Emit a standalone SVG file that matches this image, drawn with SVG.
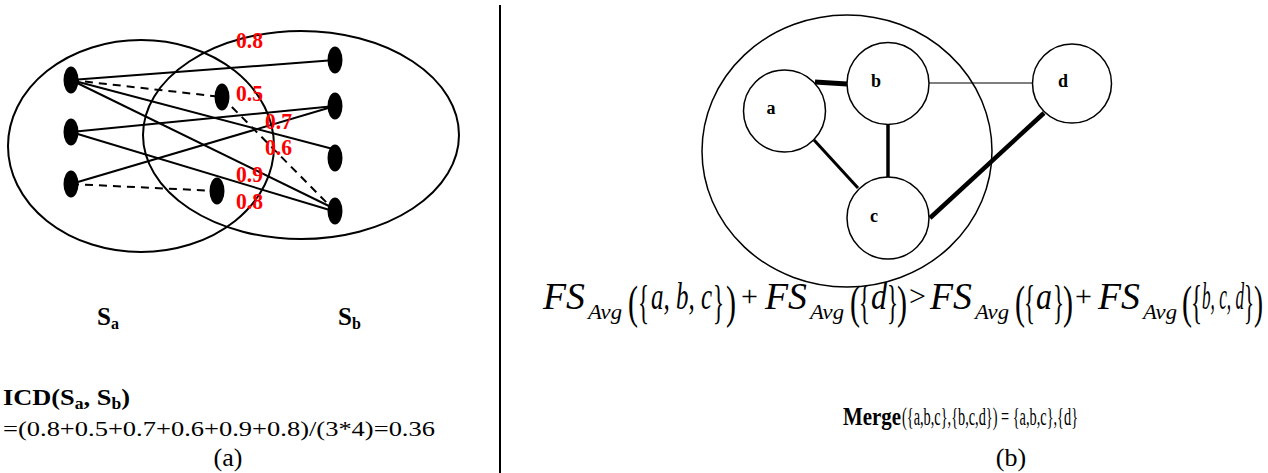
<svg xmlns="http://www.w3.org/2000/svg" width="1268" height="473" viewBox="0 0 1268 473">
<style>
.ol{fill:none;stroke:#000;stroke-width:2}
.dot{fill:#000}
.e{stroke:#000;stroke-width:2;fill:none}
.d{stroke:#000;stroke-width:2;fill:none;stroke-dasharray:8,6}
.w{font-family:"Liberation Serif","DejaVu Serif",serif;font-weight:bold;font-size:23px;fill:#f00}
.t{font-family:"Liberation Serif","DejaVu Serif",serif;fill:#000}
.b{font-weight:bold}
.nd{fill:#fff;stroke:#000;stroke-width:1.5}
.nl{font-family:"Liberation Serif","DejaVu Serif",serif;font-weight:bold;font-size:18px;text-anchor:middle}
.f{font-family:"Liberation Serif","DejaVu Serif",serif;font-style:italic;font-size:37px}
.fs{font-family:"Liberation Serif","DejaVu Serif",serif;font-style:italic;font-size:22px}
.dl{font-family:"Liberation Serif","DejaVu Serif",serif;font-size:46px}
.op{font-family:"Liberation Serif","DejaVu Serif",serif;font-size:30px}
</style>
<line x1="500" y1="5" x2="500" y2="473" stroke="#000" stroke-width="2"/>
<g id="setA"><ellipse class="ol" cx="141" cy="146" rx="133" ry="106"/></g>
<g id="setB"><ellipse class="ol" cx="301" cy="135" rx="158" ry="104"/></g>
<g id="connectors-left">
<line class="e" x1="71" y1="80" x2="335" y2="60"/>
<line class="d" x1="71" y1="80" x2="222" y2="97"/>
<line class="d" x1="222" y1="97" x2="330" y2="206"/>
<line class="e" x1="71" y1="80" x2="333" y2="149"/>
<line class="e" x1="71" y1="80" x2="333" y2="208"/>
<line class="e" x1="71" y1="132" x2="335" y2="106"/>
<line class="e" x1="71" y1="132" x2="333" y2="211"/>
<line class="e" x1="71" y1="184" x2="335" y2="106"/>
<line class="d" x1="71" y1="184" x2="217" y2="191"/>
</g>
<g id="dots">
<ellipse class="dot" cx="71" cy="80" rx="7.5" ry="13.5"/>
<ellipse class="dot" cx="71" cy="132" rx="7.5" ry="13.5"/>
<ellipse class="dot" cx="71" cy="184" rx="7.5" ry="13.5"/>
<ellipse class="dot" cx="222" cy="97" rx="7.5" ry="13.5"/>
<ellipse class="dot" cx="217" cy="191" rx="7.5" ry="13.5"/>
<ellipse class="dot" cx="335" cy="60" rx="7.5" ry="13.5"/>
<ellipse class="dot" cx="335" cy="106" rx="7.5" ry="13.5"/>
<ellipse class="dot" cx="335" cy="158" rx="7.5" ry="13.5"/>
<ellipse class="dot" cx="335" cy="211" rx="7.5" ry="13.5"/>
</g>
<g id="weights">
<text class="w" x="236" y="48" textLength="27" lengthAdjust="spacingAndGlyphs">0.8</text>
<text class="w" x="236" y="101" textLength="27" lengthAdjust="spacingAndGlyphs">0.5</text>
<text class="w" x="265" y="129" textLength="27" lengthAdjust="spacingAndGlyphs">0.7</text>
<text class="w" x="265" y="155" textLength="27" lengthAdjust="spacingAndGlyphs">0.6</text>
<text class="w" x="236" y="182" textLength="27" lengthAdjust="spacingAndGlyphs">0.9</text>
<text class="w" x="236" y="209" textLength="27" lengthAdjust="spacingAndGlyphs">0.8</text>
</g>
<g id="labels-left">
<text class="t b" x="97" y="325" style="font-size:25px">S<tspan style="font-size:16px" dy="4">a</tspan></text>
<text class="t b" x="338" y="325" style="font-size:25px">S<tspan style="font-size:16px" dy="4">b</tspan></text>
<text class="t b" x="3" y="405" style="font-size:24px" textLength="127" lengthAdjust="spacingAndGlyphs">ICD(S<tspan style="font-size:16px" dy="4">a</tspan><tspan dy="-4">, S</tspan><tspan style="font-size:16px" dy="4">b</tspan><tspan dy="-4">)</tspan></text>
<text class="t" x="3" y="436" style="font-size:22px" textLength="432" lengthAdjust="spacingAndGlyphs">=(0.8+0.5+0.7+0.6+0.9+0.8)/(3*4)=0.36</text>
<text class="t" x="228" y="466" style="font-size:26px" text-anchor="middle">(a)</text>
</g>
<g id="cluster"><ellipse fill="none" stroke="#000" stroke-width="1.5" cx="847" cy="151" rx="145" ry="136"/></g>
<g id="connectors-right">
<line stroke="#000" stroke-width="5" x1="815" y1="82" x2="847" y2="84"/>
<line stroke="#000" stroke-width="1.2" x1="929" y1="83" x2="1033" y2="83"/>
<line stroke="#000" stroke-width="3.5" x1="888" y1="124" x2="888" y2="178"/>
<line stroke="#000" stroke-width="3" x1="814" y1="140" x2="858" y2="188"/>
<line stroke="#000" stroke-width="4.5" x1="930" y1="218" x2="1044" y2="113"/>
</g>
<g id="node-a"><circle class="nd" cx="784.5" cy="111" r="41"/><text class="nl" x="771" y="114">a</text></g>
<g id="node-b"><circle class="nd" cx="888" cy="83.5" r="41"/><text class="nl" x="876" y="87">b</text></g>
<g id="node-c"><circle class="nd" cx="888" cy="218" r="41"/><text class="nl" x="874" y="222">c</text></g>
<g id="node-d"><circle class="nd" cx="1072" cy="83.5" r="39.5"/><text class="nl" x="1063" y="87">d</text></g>
<g id="formula">
<text class="f" x="543" y="309" textLength="42" lengthAdjust="spacingAndGlyphs">FS</text>
<text class="fs" x="588" y="319" textLength="34" lengthAdjust="spacingAndGlyphs">Avg</text>
<text class="dl" x="628" y="318" textLength="10" lengthAdjust="spacingAndGlyphs">(</text>
<text class="dl" x="638" y="318" textLength="11" lengthAdjust="spacingAndGlyphs">{</text>
<text class="f" x="651" y="309" textLength="61" lengthAdjust="spacingAndGlyphs">a, b, c</text>
<text class="dl" x="713" y="318" textLength="11" lengthAdjust="spacingAndGlyphs">}</text>
<text class="dl" x="726" y="318" textLength="10" lengthAdjust="spacingAndGlyphs">)</text>
<text class="op" x="741" y="306">+</text>
<text class="f" x="765" y="309" textLength="42" lengthAdjust="spacingAndGlyphs">FS</text>
<text class="fs" x="810" y="319" textLength="34" lengthAdjust="spacingAndGlyphs">Avg</text>
<text class="dl" x="850" y="318" textLength="10" lengthAdjust="spacingAndGlyphs">(</text>
<text class="dl" x="859" y="318" textLength="11" lengthAdjust="spacingAndGlyphs">{</text>
<text class="f" x="871" y="309" textLength="16" lengthAdjust="spacingAndGlyphs">d</text>
<text class="dl" x="887" y="318" textLength="11" lengthAdjust="spacingAndGlyphs">}</text>
<text class="dl" x="897" y="318" textLength="10" lengthAdjust="spacingAndGlyphs">)</text>
<text class="op" x="909" y="306">&gt;</text>
<text class="f" x="930" y="309" textLength="42" lengthAdjust="spacingAndGlyphs">FS</text>
<text class="fs" x="975" y="319" textLength="34" lengthAdjust="spacingAndGlyphs">Avg</text>
<text class="dl" x="1015" y="318" textLength="10" lengthAdjust="spacingAndGlyphs">(</text>
<text class="dl" x="1024" y="318" textLength="11" lengthAdjust="spacingAndGlyphs">{</text>
<text class="f" x="1036" y="309" textLength="16" lengthAdjust="spacingAndGlyphs">a</text>
<text class="dl" x="1053" y="318" textLength="11" lengthAdjust="spacingAndGlyphs">}</text>
<text class="dl" x="1063" y="318" textLength="10" lengthAdjust="spacingAndGlyphs">)</text>
<text class="op" x="1075" y="306">+</text>
<text class="f" x="1098" y="309" textLength="42" lengthAdjust="spacingAndGlyphs">FS</text>
<text class="fs" x="1143" y="319" textLength="34" lengthAdjust="spacingAndGlyphs">Avg</text>
<text class="dl" x="1182" y="318" textLength="10" lengthAdjust="spacingAndGlyphs">(</text>
<text class="dl" x="1191" y="318" textLength="11" lengthAdjust="spacingAndGlyphs">{</text>
<text class="f" x="1202" y="309" textLength="42" lengthAdjust="spacingAndGlyphs">b, c, d</text>
<text class="dl" x="1244" y="318" textLength="10" lengthAdjust="spacingAndGlyphs">}</text>
<text class="dl" x="1254" y="318" textLength="9" lengthAdjust="spacingAndGlyphs">)</text>
</g>
<g id="labels-right">
<text class="t b" x="843" y="425" style="font-size:25px" textLength="58" lengthAdjust="spacingAndGlyphs">Merge</text>
<text class="t" x="902" y="425" style="font-size:26px" textLength="176" lengthAdjust="spacingAndGlyphs">({a,b,c},{b,c,d}) = {a,b,c},{d}</text>
<text class="t" x="1011" y="466" style="font-size:26px" text-anchor="middle">(b)</text>
</g>
</svg>
